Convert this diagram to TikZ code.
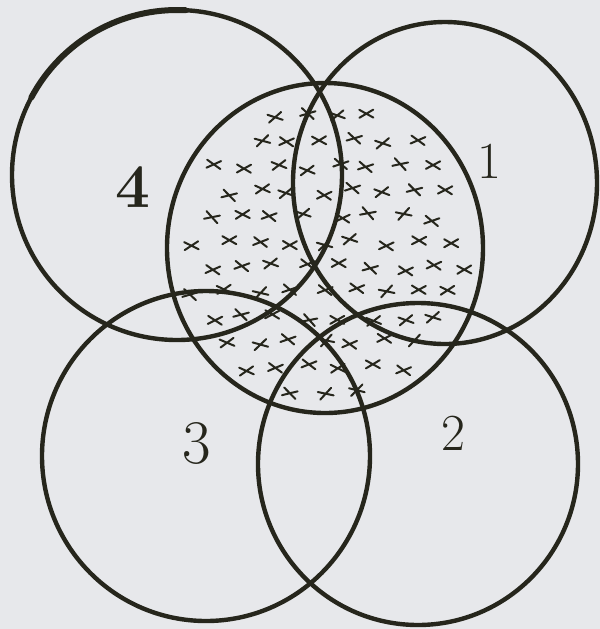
\documentclass[tikz,border=0pt]{standalone}
\usepackage{tikz}
\usetikzlibrary{shapes.geometric}
\definecolor{paperColor}{HTML}{E7E8EB}
\definecolor{inkColor}{HTML}{26261C}

\begin{document}
\begin{tikzpicture}[
    x=0.5pt, y=-0.5pt,
    setring/.style={
        ellipse,
        draw=inkColor,
        line width=2.2pt,
        inner sep=0pt,
        outer sep=0pt,
    },
    heavyink/.style={
        draw=inkColor,
        line width=3pt,
        line cap=round,
    },
    setlabel/.style={
        text=inkColor,
        font=\fontsize{31}{31}\selectfont,
        inner sep=0pt,
    },
    crossmark/.style={
        draw=inkColor,
        line width=1pt,
        line cap=round,
    },
]

% ===== Hoja =====
\fill[paperColor] (0,0) rectangle (600,629);
\useasboundingbox (0,0) rectangle (600,629);

% ===== Sombreado (cruces) del conjunto central =====
\pgfmathsetseed{42}
\foreach \row in {0,...,13} {
    \foreach \col in {0,...,10} {
        \pgfmathsetmacro\px{162+\col*32+mod(\row,2)*16+rand*5}
        \pgfmathsetmacro\py{92+\row*25+rand*4}
        \pgfmathsetmacro\tilt{rand*20}
        \pgfmathtruncatemacro\inside{((\px-325)/142)^2+((\py-248)/150)^2<1}
        \ifnum\inside=1
            \draw[crossmark, rotate around={\tilt:(\px,\py)}]
                (\px,\py) +(-7,-4) -- +(7,4) +(-7,4) -- +(7,-4);
        \fi
    }
}

% ===== Conjuntos =====
\node[setring, minimum width=158pt, minimum height=165pt] (core) at (325,248) {};
\node[setring, minimum width=165pt, minimum height=165pt] (four) at (177,175) {};
\node[setring, minimum width=152pt, minimum height=161pt] (one) at (445,183) {};
\node[setring, minimum width=164pt, minimum height=165pt] (three) at (206,456) {};
\node[setring, minimum width=160pt, minimum height=161pt] (two) at (418,464) {};

% trazo grueso arriba a la izquierda
\draw[heavyink] (four.152) arc[start angle=208, end angle=273, radius=165];

% ===== Etiquetas =====
\node[setlabel, font=\fontsize{31}{31}\selectfont\bfseries] (lab4) at (133,187) {4};
\node[setlabel, font=\fontsize{26}{26}\selectfont] (lab1) at (489,161) {1};
\node[setlabel] (lab3) at (197,443) {3};
\node[setlabel, font=\fontsize{26}{26}\selectfont] (lab2) at (453,433) {2};

\end{tikzpicture}
\end{document}
